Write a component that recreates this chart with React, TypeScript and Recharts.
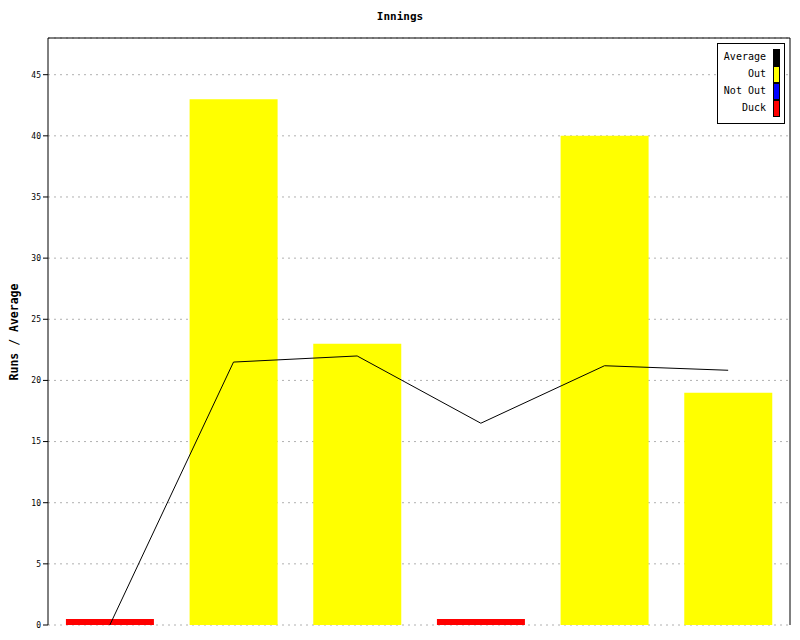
import { Bar, CartesianGrid, ComposedChart, Line, ReferenceLine, XAxis, YAxis } from "recharts";

const innings = ["1", "2", "3", "4", "5", "6"];
const outRuns = [0, 43, 23, 0, 40, 19];
const notOutRuns = [0, 0, 0, 0, 0, 0];
const duckRuns = [0.5, 0, 0, 0.5, 0, 0];
const average = [0, 21.5, 22, 16.5, 21.2, 20.83];
const yTicks = [0, 5, 10, 15, 20, 25, 30, 35, 40, 45];

const legendItems = [
  { name: "Average", color: "#000000" },
  { name: "Out", color: "#ffff00" },
  { name: "Not Out", color: "#0000ff" },
  { name: "Duck", color: "#ff0000" },
];

const rows = innings.map((inn, i) => ({
  inning: inn,
  out: outRuns[i],
  notOut: notOutRuns[i],
  duck: duckRuns[i],
  average: average[i],
}));

const mono = "'DejaVu Sans Mono', monospace";

function LegendBox() {
  return (
    <div
      style={{
        position: "absolute",
        left: 717,
        top: 43,
        width: 68,
        height: 81,
        border: "1px solid #000",
        background: "#fff",
        fontFamily: mono,
        fontSize: 10,
        paddingTop: 5,
        boxSizing: "border-box",
      }}
    >
      {legendItems.map((item) => (
        <div
          key={item.name}
          style={{
            display: "flex",
            justifyContent: "flex-end",
            alignItems: "center",
            height: 17,
            paddingRight: 4,
            whiteSpace: "nowrap",
          }}
        >
          <span style={{ marginRight: 7, marginTop: -2 }}>{item.name}</span>
          <span
            style={{
              display: "inline-block",
              width: 5,
              height: 15,
              background: item.color,
              border: "1px solid #000",
            }}
          />
        </div>
      ))}
    </div>
  );
}

export default function App() {
  return (
    <div style={{ position: "absolute", left: 0, top: 0, width: 800, height: 640, background: "#fff" }}>
      <div
        style={{
          position: "absolute",
          left: 0,
          top: 10,
          width: 800,
          textAlign: "center",
          fontFamily: mono,
          fontWeight: "bold",
          fontSize: 11,
        }}
      >
        Innings
      </div>
      <div
        style={{
          position: "absolute",
          left: 14,
          top: 332,
          transform: "translate(-50%, -50%) rotate(-90deg)",
          fontFamily: mono,
          fontWeight: "bold",
          fontSize: 11.5,
          whiteSpace: "nowrap",
        }}
      >
        Runs / Average
      </div>
      <ComposedChart
        width={800}
        height={640}
        data={rows}
        margin={{ top: 38, right: 9, bottom: 15, left: 0 }}
        barCategoryGap="14.5%"
      >
        <CartesianGrid vertical={false} stroke="#b0b0b0" strokeDasharray="2 4" />
        <XAxis dataKey="inning" tick={false} tickLine={false} height={0} axisLine={{ stroke: "#000" }} />
        <YAxis
          width={48}
          domain={[0, 48]}
          ticks={yTicks}
          interval={0}
          axisLine={{ stroke: "#000" }}
          tickLine={{ stroke: "#000" }}
          tickSize={5}
          tick={{ fontSize: 8, fontFamily: mono, fill: "#000" }}
        />
        <YAxis yAxisId="right" orientation="right" width={1} domain={[0, 48]} tick={false} tickLine={false} axisLine={{ stroke: "#000" }} />
        <ReferenceLine y={48} stroke="#000" strokeWidth={1} />
        <Bar dataKey="out" stackId="runs" fill="#ffff00" isAnimationActive={false} />
        <Bar dataKey="notOut" stackId="runs" fill="#0000ff" isAnimationActive={false} />
        <Bar dataKey="duck" stackId="runs" fill="#ff0000" isAnimationActive={false} />
        <Line dataKey="average" type="linear" stroke="#000" strokeWidth={1} dot={false} isAnimationActive={false} />
      </ComposedChart>
      <LegendBox />
    </div>
  );
}
